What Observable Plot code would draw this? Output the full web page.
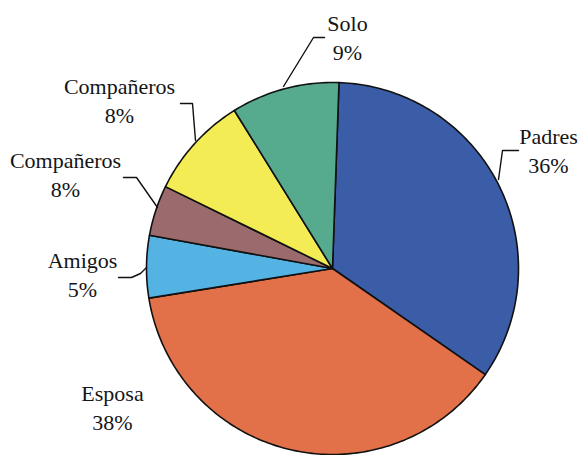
<!DOCTYPE html>
<html><head><meta charset="utf-8">
<script src="https://cdn.jsdelivr.net/npm/d3@7"></script>
<script src="https://cdn.jsdelivr.net/npm/@observablehq/plot@0.6"></script>
<style>body{margin:0;background:#fff}</style>
</head><body><div id="chart"></div>
<script>
// ---- data ----
const categories = ["Padres", "Esposa", "Amigos", "Compañeros", "Compañeros", "Solo"];
const shares = [34.1, 37.8, 5.4, 4.4, 8.9, 9.4];          // measured slice sizes
const pctLabels = ["36%", "38%", "5%", "8%", "8%", "9%"];  // printed labels
const colors = ["#3b5ca7", "#e2714a", "#55b3e4", "#9b6a6c", "#f4ec55", "#56ab8f"];

// ---- layout ----
const W = 580, H = 455, CX = 332, CY = 268, R = 186, START = 2, FS = 22;
const toData = ([px, py]) => [(px - CX) / R, (CY - py) / R];
const labelPos = [[548, 143], [112, 400], [82, 267], [65, 167], [119, 93], [347, 30]]; // first-line baselines
const lineGap = 29;
const leaderPaths = [
  [[518, 150], [502, 150], [498, 179]],
  null,
  [[118, 277], [131, 277], [140, 273], [146, 267]],
  [[123, 177], [136, 177], [157, 207]],
  [[180, 103], [192, 103], [195, 140]],
  [[324, 37], [313, 37], [283, 86]]
];

// ---- build slice polygons ----
const total = d3.sum(shares);
const slices = [];
let acc = START;
shares.forEach((v, i) => {
  const a0 = acc, a1 = acc + v / total * 360;
  acc = a1;
  const pts = [[0, 0]];
  const n = Math.max(2, Math.ceil(a1 - a0));
  for (let k = 0; k <= n; k++) {
    const a = (a0 + (a1 - a0) * k / n) * Math.PI / 180;
    pts.push([Math.sin(a), Math.cos(a)]);
  }
  pts.push([0, 0]);
  pts.forEach(([x, y]) => slices.push({i, x, y}));
});

const leaders = [];
leaderPaths.forEach((p, i) => { if (p) p.forEach(q => { const [x, y] = toData(q); leaders.push({i, x, y}); }); });

const mid = FS * 0.32;
const names = categories.map((c, i) => { const [x, y] = toData([labelPos[i][0], labelPos[i][1] - mid]); return {t: c, x, y}; });
const pcts = pctLabels.map((c, i) => { const [x, y] = toData([labelPos[i][0], labelPos[i][1] + lineGap - mid]); return {t: c, x, y}; });

const chart = Plot.plot({
  width: W, height: H,
  margin: 0,
  x: {domain: [-CX / R, (W - CX) / R], axis: null},
  y: {domain: [-(H - CY) / R, CY / R], axis: null},
  color: {domain: d3.range(shares.length), range: colors},
  marks: [
    Plot.line(slices, {x: "x", y: "y", z: "i", fill: d => d.i, stroke: "#111", strokeWidth: 1.6, strokeLinejoin: "round"}),
    Plot.line(leaders, {x: "x", y: "y", z: "i", stroke: "#111", strokeWidth: 1.4}),
    Plot.text(names, {x: "x", y: "y", text: "t", textAnchor: "middle", fontFamily: "serif", fontSize: FS, fill: "#151515"}),
    Plot.text(pcts, {x: "x", y: "y", text: "t", textAnchor: "middle", fontFamily: "serif", fontSize: FS, fill: "#151515"})
  ]
});
document.getElementById("chart").append(chart);
</script>
</body></html>
